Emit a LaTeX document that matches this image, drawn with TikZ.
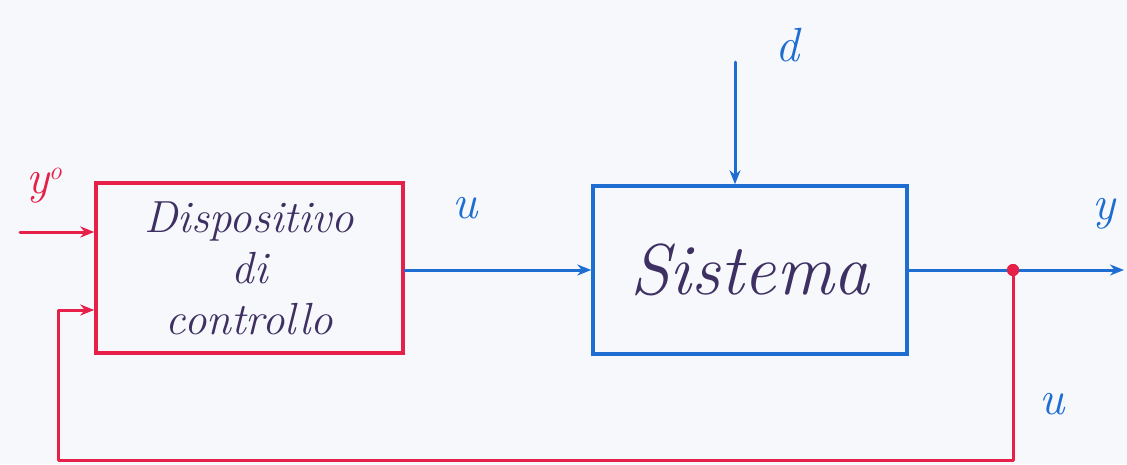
\documentclass[tikz,border=0pt]{standalone}
\usetikzlibrary{arrows.meta}
\definecolor{rd}{RGB}{230,32,72}
\definecolor{bl}{RGB}{30,110,210}
\definecolor{ink}{RGB}{62,48,98}
\definecolor{paper}{RGB}{246,248,252}
\begin{document}
\begin{tikzpicture}[x=1pt,y=-1pt,
  redline/.style={draw=rd,line width=3pt,line cap=round,line join=round},
  blueline/.style={draw=bl,line width=3pt,line cap=round,line join=round},
  tip/.style={-{Stealth[length=14pt,width=11pt]}},
  blockbox/.style={rectangle,line width=3.5pt,text=ink,align=center,inner sep=0pt},
  lbl/.style={font=\itshape\fontsize{48}{48}\selectfont}]
\fill[paper] (0,0) rectangle (1127,464);
\useasboundingbox (0,0) rectangle (1127,464);

\node[blockbox,draw=rd,minimum width=307pt,minimum height=170pt,
  font=\itshape\fontsize{45}{51}\selectfont] (ctrl) at (249.5,268)
  {Dispositivo\\di\\controllo};
\node[blockbox,draw=bl,minimum width=314pt,minimum height=168pt,
  font=\itshape\fontsize{72}{72}\selectfont] (sys) at (750,270) {Sistema};

\coordinate (yin) at (20,232);
\coordinate (din) at (735,62);
\coordinate (yend) at (1124,270);
\coordinate (fbY) at (0,310);
\coordinate (bot) at (58,460);
\node[circle,fill=rd,inner sep=0pt,minimum size=12pt] (jd) at (1013,270) {};

\draw[redline,tip] (yin) -- (ctrl.west |- yin);
\draw[blueline,tip] (ctrl.east |- sys.west) -- (sys.west);
\draw[blueline,tip] (din) -- (sys.north -| din);
\draw[blueline,tip] (sys.east) -- (yend);
\draw[redline,tip] (jd.center) |- (bot) |- (ctrl.west |- fbY);
\fill[rd] (jd) circle (6pt);

\node[lbl,text=rd] (ylab0) at (44,186) {y\raisebox{14pt}{\fontsize{26}{26}\selectfont o}};
\node[lbl,text=bl] (ulab) at (465,208) {u};
\node[lbl,text=bl] (dlab) at (787,45) {d};
\node[lbl,text=bl] (ylab) at (1104,214) {y};
\node[lbl,text=bl] (ulab2) at (1052,404) {u};
\end{tikzpicture}
\end{document}
